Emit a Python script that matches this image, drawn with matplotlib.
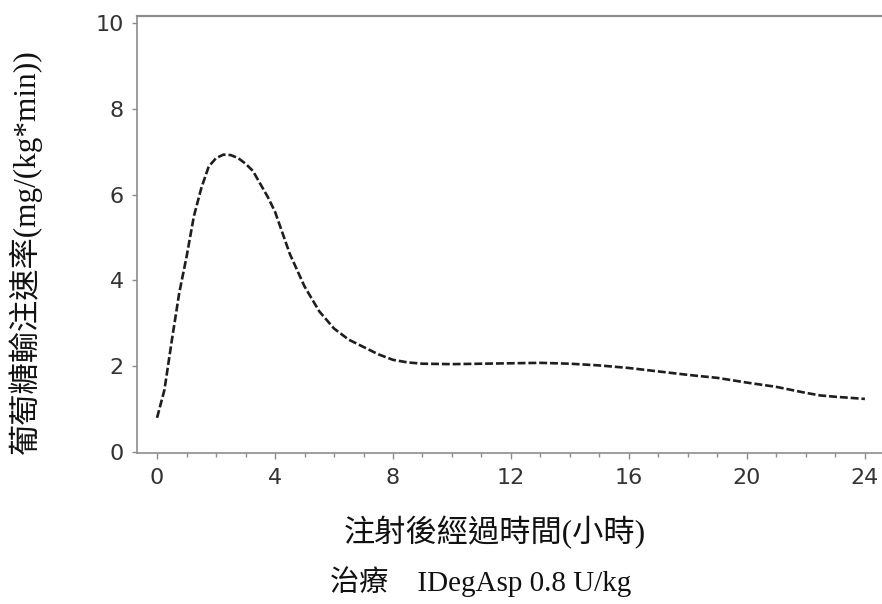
import matplotlib
matplotlib.use("Agg")
import matplotlib.pyplot as plt
from matplotlib.ticker import MultipleLocator

# Data
hours = [0, 0.25, 0.5, 0.75, 1.0, 1.25, 1.5, 1.75, 2.0, 2.25, 2.5, 2.75, 3.0,
         3.25, 3.5, 3.75, 4.0, 4.5, 5.0, 5.5, 6.0, 6.5, 7.0, 7.5, 8.0, 8.5,
         9, 10, 11, 12, 13, 14, 15, 16, 17, 18, 19, 20, 21, 22, 22.5, 23, 24]
gir = [0.80, 1.45, 2.60, 3.70, 4.55, 5.50, 6.15, 6.65, 6.85, 6.93, 6.92, 6.85,
       6.72, 6.55, 6.25, 5.95, 5.60, 4.62, 3.86, 3.28, 2.88, 2.62, 2.45, 2.28,
       2.15, 2.09, 2.06, 2.05, 2.06, 2.07, 2.08, 2.06, 2.02, 1.96, 1.88, 1.80,
       1.73, 1.62, 1.52, 1.38, 1.32, 1.29, 1.24]
xticks = [0, 4, 8, 12, 16, 20, 24]
yticks = [0, 2, 4, 6, 8, 10]

xlabel = "注射後經過時間(小時)"
ylabel = "葡萄糖輸注速率(mg/(kg*min))"
caption = "治療\u3000IDegAsp 0.8 U/kg"

W, H = 882, 604
fig = plt.figure(figsize=(W / 100, H / 100), dpi=100)
left, right, bottom, top = 137 / W, 1.0, 1 - 453 / H, 1 - 16 / H
ax = fig.add_axes([left, bottom, right - left, top - bottom])

ax.plot(hours, gir, color="#1e1e1e", lw=1.9, linestyle=(0, (3.0, 1.1)))

ax.set_xlim(-0.68, 24.58)
ax.set_ylim(-0.02, 10.16)
ax.set_xticks(xticks)
ax.set_yticks(yticks)
ax.xaxis.set_minor_locator(MultipleLocator(1))

spine_col = "#8c8c8c"
for s in ["left", "bottom", "top"]:
    ax.spines[s].set_color(spine_col)
    ax.spines[s].set_linewidth(1.2)
ax.spines["top"].set_linewidth(1.6)
ax.spines["right"].set_visible(False)

ax.tick_params(axis="both", which="major", colors=spine_col, labelcolor="#333333",
               labelsize=16, direction="out")
ax.tick_params(axis="x", which="major", length=4.5, width=1.0, pad=6)
ax.tick_params(axis="y", which="major", length=3.6, width=1.0, pad=6)
ax.tick_params(axis="x", which="minor", length=3, width=1.0, colors=spine_col)
ax.tick_params(axis="y", which="minor", left=False)
for lab in ax.get_xticklabels() + ax.get_yticklabels():
    lab.set_family("DejaVu Sans")

fam = ["Liberation Serif", "Noto Sans CJK TC", "DejaVu Sans"]
fig.text(495 / W, 1 - 533 / H, xlabel, family=fam, fontsize=22.5,
         ha="center", va="center", color="#111111")
fig.text(481 / W, 1 - 582 / H, caption, family=fam, fontsize=21,
         ha="center", va="center", color="#111111")
fig.text(25 / W, 1 - 252 / H, ylabel, family=fam, fontsize=22.5,
         ha="center", va="center", rotation=90, color="#111111")

fig.savefig("out.png", dpi=100)
